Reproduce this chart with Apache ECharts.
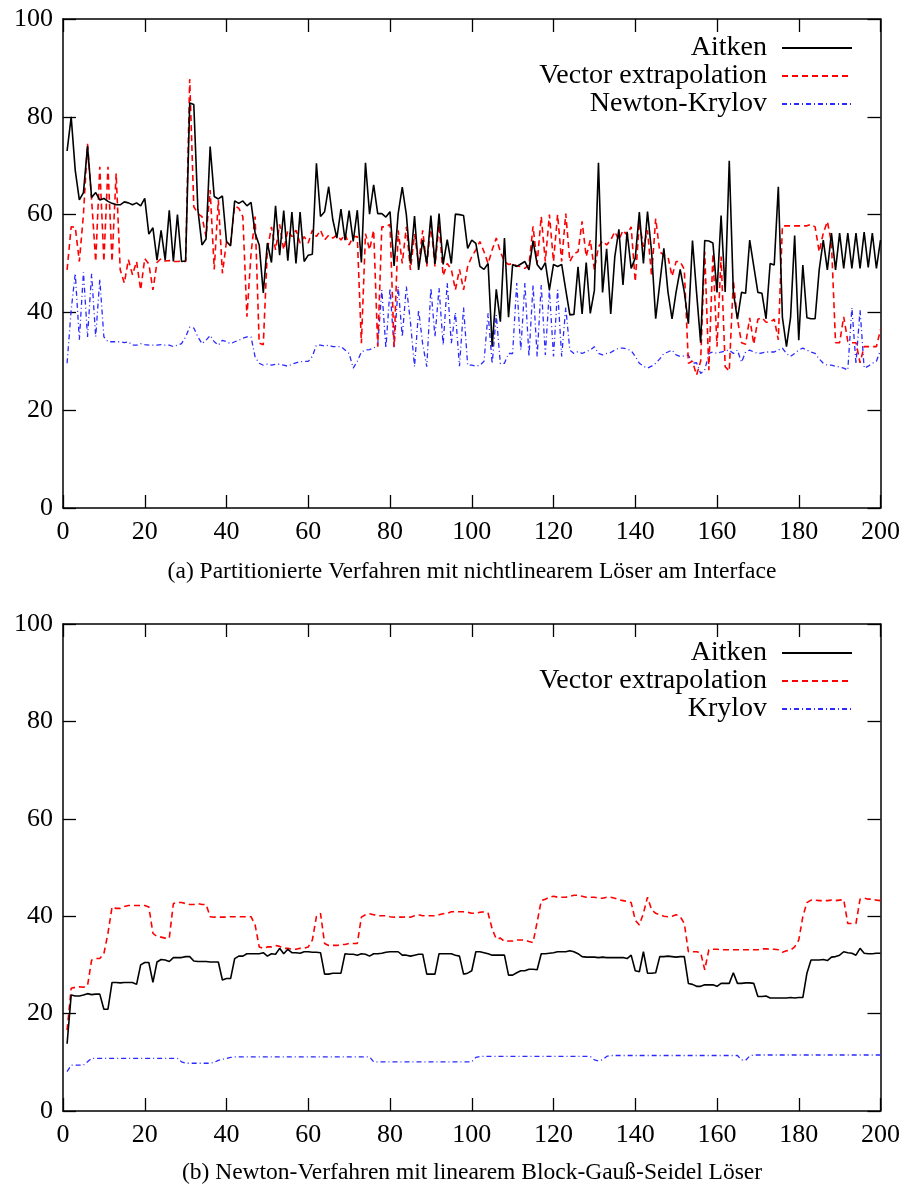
<!DOCTYPE html>
<html>
<head>
<meta charset="utf-8">
<script src="https://cdn.jsdelivr.net/npm/echarts@6/dist/echarts.min.js"></script>
<style>html,body{margin:0;padding:0;background:#fff}#c{width:903px;height:1188px}</style>
</head>
<body>
<div id="c"></div>
<script>
// ---------- data ----------
const iterations = [];
for (let i = 1; i <= 200; i++) iterations.push(i);

const seriesNamesA = ['Aitken', 'Vector extrapolation', 'Newton-Krylov'];
const seriesNamesB = ['Aitken', 'Vector extrapolation', 'Krylov'];
const captionA = '(a) Partitionierte Verfahren mit nichtlinearem Löser am Interface';
const captionB = '(b) Newton-Verfahren mit linearem Block-Gauß-Seidel Löser';

const aitkenA = [73,80,69,63,64.5,74,63.5,64.5,63,63.3, 62.7,62.3,62,62,62.6,62.4,62,62.4,61.8,63.3,
 56,57.3,50.7,56.8,50.7,60.9,50.4,60,50.4,50.5, 82.8,82.5,61,53.8,55,73.9,63.7,63.2,63.8,54.5,
 53.6,62.8,62.3,62.8,61.8,62.5,56.2,53.8,44,54.2, 50.2,61.8,51.7,60.8,50.6,60.5,50,60.5,50.4,51.7,
 51.9,70.5,59.6,60.6,65.7,59,55.2,61.1,54.8,60.8, 54.5,60.9,50.2,70.6,60.1,66.1,60.2,60.2,59.5,60.6,
 49.5,60.2,65.6,60,50,59.7,48.7,54.8,50,59.8, 49.9,60.2,49.8,54.9,50,60.1,60,59.8,53.1,54.8,
 54.1,49.4,48.8,50,33,44.7,38.1,55.2,39,49.8, 49.4,49.9,50.4,48.7,54.7,49.8,48.7,50.2,44.6,49.8,
 49.4,49.8,44.6,39.5,39.6,49.3,39.7,50.2,39.8,44.5, 70.6,44.1,53,39.7,51.4,57,45.6,56.5,49,51.1,
 60.5,50,60.6,52.4,38.7,45.9,53.1,44.2,38.7,44.2, 48.8,44.2,37.7,54.7,44.1,33.8,54.7,54.6,54.2,44.1,
 59.8,44.2,71,44.1,38.6,44.1,43.9,54.8,49.4,44.1, 43.9,38.7,50,49.7,65.7,39,33,39,55.7,34.3,
 49.7,38.9,38.7,38.7,48.7,54.8,48.7,56.2,48.7,56.2, 49,56.2,49,56.2,49,56.4,49.2,56.2,49,54.8];

const vectorA = [48.7,57.5,57.4,50.4,60,74.5,63,50.4,69.8,50.4, 69.8,50.4,68.4,48.7,46,50.8,47.7,50.4,44.6,51,
 49.9,44.6,50.2,51,50.5,50.6,50.4,50.4,50.5,50.4, 87.7,61.6,60.2,59.6,55.5,65,48.8,63,48,54.5,
 54.2,61.8,61.3,59.6,39.1,52,59.6,33.7,33.4,52.8, 57.5,52.8,58,52.8,56.8,55.5,56.8,54.2,55.5,54.2,
 56.8,55.5,56.8,54.8,55.8,55.2,55.8,54.8,56,53.8, 55.5,55.5,33.7,56.1,52.8,56.8,33,57.5,57.5,58,
 33,56.8,50,57.5,48.7,56,50,56.8,49.4,58, 49.4,58,47.5,50,48.8,44.6,48.8,44.6,49.4,51.4,
 52.8,54.5,52.4,50,52.8,55.2,52.4,50.4,49.8,50, 49.5,49.4,49,49.7,57.6,50,59.6,50.4,60,50.4,
 60,50.4,60.2,50.4,52,52.4,58.6,51.4,54.8,48.7, 53.4,54.6,53.8,54.8,56.5,54.8,56.8,55.8,57.5,46.3,
 58.6,53.4,56.8,47.4,59.2,52.4,51.7,51.4,47.4,50.4, 50.4,48.8,29.6,30,27.2,30,52.4,28.2,52,33,
 51.4,28.9,28,46.5,38.6,33.8,33.5,38.9,33.5,38.6, 38.9,38,38,38.6,34.4,57.7,57.7,57.7,57.7,57.7,
 57.7,57.7,58,57.5,52.4,56.2,58.6,54.2,33.8,33.8, 39.1,34.1,33.8,33.8,29.7,33,33,33,33,36.5];

const newtonKrylovA = [29.6,40.5,48,34.4,48.2,35,47.9,35,46.8,35, 34,34,34,34,33.8,34,33.3,33.3,33.6,33.4,
 33.3,33.3,33.3,33.4,33.3,33.3,33,33.3,33.6,35, 37,36.8,35,33.6,34.3,35.3,34,33.3,34.3,34,
 33.6,34,34.3,34.7,35,35,30.9,29.6,29.2,29.4, 29.2,29.4,29.4,29.2,29,29.4,29.7,29.9,30,30,
 31,33.3,33.3,33.1,33.3,33,33,33,32.3,31.6, 28.6,30,31.9,32.3,32.4,32.7,33.3,44.6,32.7,44.9,
 32.7,45.3,35,45.3,38,28.9,40.5,33.5,28.9,45, 35,45,33.3,46,33.7,40,29,41,29.2,29.2,
 29,29.2,30,39.8,29.5,39.5,29.5,29.6,31.6,31.6, 46,32.3,46,31,45.6,31,45.6,31.3,44.6,31,
 44.6,31,41,32.3,31.6,32,31.6,32,32.3,33, 31.6,31.3,31.6,31.8,32.3,32.7,32.7,32.5,32.2,31,
 29.6,29,28.6,29,29.6,30.5,31.6,31.9,32.3,31.3, 31,31.1,31.3,29.6,29.7,27.5,28.2,31.6,31.9,31.6,
 31.9,32.1,32.3,31.6,32.3,29.8,31.9,32.3,31.9,31.6, 31.7,31.9,31.9,31.9,32.3,32.7,31.6,31,31.6,32.3,
 32.7,32.3,31.9,31.6,30.5,29.6,29.2,29.2,29,28.8, 28.6,28.2,41,29.5,40.5,28.6,29,29.6,30,32.3];

const aitkenB = [13.8,23.8,23.6,23.6,23.8,24.1,23.9,24,24,20.9, 20.9,26.4,26.4,26.3,26.4,26.4,26.4,26,30,30.5,
 30.5,26.4,30.6,31.1,31,30.7,31.5,31.5,31.5,31.7, 31.7,30.8,30.7,30.7,30.7,30.6,30.6,30.6,26.9,27.2,
 27.2,31.3,31.8,31.8,32.3,32.3,32.3,32.3,32.5,31.8, 32.3,32.2,33.4,32.3,33.2,32.5,32.5,32.4,32.7,32.7,
 32.6,32.6,32.5,28.1,28.1,28.3,28.3,28.3,32.3,32.2, 32.2,32,32.3,32.2,31.8,32.3,32.3,32.4,32.6,32.7,
 32.7,32.7,32,32,31.8,32,32.2,32.2,28.1,28.1, 28.1,32.3,32.3,32.3,32.3,32,31.8,28.1,28.3,28.8,
 32.7,32.7,32.5,32.3,32,32,32,32,27.9,27.9, 28.4,28.8,28.8,29.1,29.1,29,32.3,32.3,32.4,32.5,
 32.7,32.7,32.7,32.9,32.7,32.3,31.7,31.6,31.6,31.6, 31.5,31.6,31.5,31.5,31.5,31.5,31.5,31.3,32,28.8,
 28.6,32.7,28.3,28.3,28.4,31.7,31.7,31.8,31.7,31.6, 31.7,31.7,26.2,26,25.6,25.6,25.9,25.9,25.9,25.6,
 26.2,26.2,26.2,28.4,26.2,26.2,26.3,26.3,26.2,23.5, 23.5,23.6,23.2,23.2,23.2,23.2,23.2,23.3,23.2,23.3,
 23.3,28.3,31,31,31,31.1,30.9,31.6,31.7,32, 32.7,32.5,32.4,32,33.4,32.4,32.3,32.3,32.4,32.4];

const vectorB = [16.6,25.2,25.4,25.5,25.4,25.7,31,31.3,31.3,32.3, 36.5,41.9,41.6,41.6,42,42.2,42.2,42.2,42.2,42.2,
 41.9,36.5,35.8,35.7,35.5,35.5,42.6,42.8,42.8,42.6, 42.4,42.4,42.6,42.4,42.4,39.9,39.8,39.8,39.8,39.8,
 39.9,39.9,39.9,39.9,39.9,39.9,38.2,33.7,33.4,33.7, 33.7,34,33.8,33.4,33.4,33.2,33.2,33.4,33.4,33.7,
 35.1,39.9,40.6,34.4,34,34,34,34.2,34.2,34.4, 34.4,34.4,39.8,40.3,40.5,40.3,40.1,40.1,40.1,39.9,
 39.8,39.8,39.8,39.9,39.8,40.1,40.3,40.1,40.1,40.1, 40.1,40.3,40.5,40.6,40.9,40.9,40.9,40.9,40.8,40.6,
 40.6,40.8,40.9,40.6,37.4,35.3,35.5,34.8,34.9,34.9, 35.1,35.1,35.1,34.8,34.6,38.8,43.2,43.5,43.9,44.1,
 43.9,43.9,43.9,44.1,44.3,44.3,44.1,43.9,43.9,43.9, 43.7,43.7,43.9,43.9,43.7,43.4,43.2,43,42.8,39.2,
 38.2,40.6,43.9,41.3,40.6,40.3,40,39.9,40,40.3, 39.9,38.5,32.7,32.7,32.7,32.5,29,33.1,33.2,33.2,
 33.1,33.1,33.1,33.1,33.1,33.1,33.1,33.1,33.1,33.1, 33.3,33.3,33.2,33.2,33.1,32.6,32.9,33,33.7,35.1,
 39.9,42.8,43.3,43.3,43.2,43.2,43.2,43.3,43.2,43.3, 43.4,38.5,38.5,38.5,43.5,43.7,43.5,43.5,43.3,43.2];

const krylovB = [8.1,9.4,9.4,9.4,9.4,10.1,10.8,10.8,10.8,10.8, 10.8,10.8,10.8,10.8,10.8,10.8,10.8,10.8,10.8,10.8,
 10.8,10.8,10.8,10.8,10.8,10.8,10.8,10.8,10.1,9.8, 9.8,9.8,9.8,9.8,9.8,9.8,10,10.4,10.6,10.8,
 11,11.1,11.1,11.1,11.1,11.1,11.1,11.1,11.1,11.1, 11.1,11.1,11.1,11.1,11.1,11.1,11.1,11.1,11.1,11.1,
 11.1,11.1,11.1,11.1,11.1,11.1,11.1,11.1,11.1,11.1, 11.1,11.1,11.1,11.1,11.1,10.1,10.1,10.1,10.1,10.1,
 10.1,10.1,10.1,10.1,10.1,10.1,10.1,10.1,10.1,10.1, 10.1,10.1,10.1,10.1,10.1,10.1,10.1,10.1,10.1,10.1,
 11,11.2,11.2,11.2,11.2,11.2,11.2,11.2,11.2,11.2, 11.2,11.2,11.2,11.2,11.2,11.2,11.2,11.2,11.2,11.2,
 11.2,11.2,11.2,11.2,11.2,11.2,11.2,11.2,11.2,10.5, 10.3,10.5,11.2,11.4,11.4,11.4,11.4,11.4,11.4,11.4,
 11.4,11.4,11.4,11.4,11.4,11.4,11.4,11.4,11.4,11.4, 11.4,11.4,11.4,11.4,11.4,11.4,11.4,11.4,11.4,11.4,
 11.4,11.4,11.4,11.4,11.4,10.5,10.4,11.3,11.5,11.5, 11.5,11.5,11.5,11.5,11.5,11.5,11.5,11.5,11.5,11.5,
 11.5,11.5,11.5,11.5,11.5,11.5,11.5,11.5,11.5,11.5, 11.5,11.5,11.5,11.5,11.5,11.5,11.5,11.5,11.5,11.5];

// ---------- chart ----------
const FONT = 'Liberation Serif';
const pairs = arr => iterations.map((x, i) => [x, arr[i]]);

const styles = [
  {color: '#000000', width: 1.6, type: 'solid'},
  {color: '#ff0000', width: 1.6, type: [6, 4]},
  {color: '#2a2aff', width: 1.3, type: [5, 3, 1, 3]}
];

function xAx(grid, pos) {
  return {
    type: 'value', gridIndex: grid, position: pos, min: 0, max: 200, interval: 20,
    axisLine: {show: true, onZero: false, lineStyle: {color: '#000', width: 1.5}},
    axisTick: {show: true, inside: true, length: 13, lineStyle: {color: '#000', width: 1.3}},
    axisLabel: {show: pos === 'bottom', margin: 11, color: '#000', fontFamily: FONT, fontSize: 26},
    splitLine: {show: false}
  };
}
function yAx(grid, pos) {
  return {
    type: 'value', gridIndex: grid, position: pos, min: 0, max: 100, interval: 20,
    axisLine: {show: true, onZero: false, lineStyle: {color: '#000', width: 1.5}},
    axisTick: {show: true, inside: true, length: 13, lineStyle: {color: '#000', width: 1.3}},
    axisLabel: {show: pos === 'left', margin: 10, color: '#000', fontFamily: FONT, fontSize: 26},
    splitLine: {show: false}
  };
}

const series = [];
[[aitkenA, vectorA, newtonKrylovA, seriesNamesA, 0], [aitkenB, vectorB, krylovB, seriesNamesB, 1]].forEach(set => {
  const g = set[4];
  [set[0], set[1], set[2]].forEach((arr, k) => {
    series.push({
      type: 'line', name: set[3][k], data: pairs(arr),
      xAxisIndex: g * 2, yAxisIndex: g * 2,
      symbol: 'none', showSymbol: false, smooth: false,
      lineStyle: styles[k], itemStyle: {color: styles[k].color},
      z: 3 - k
    });
  });
});

function legend(names, top) {
  return {
    data: names, orient: 'vertical', right: 50, top: top, align: 'right', padding: 0,
    itemWidth: 70, itemHeight: 10, itemGap: 0, selectedMode: false,
    itemStyle: {opacity: 0, borderWidth: 0},
    textStyle: {fontFamily: FONT, fontSize: 28, lineHeight: 26, color: '#000', padding: [0, 10, 0, 0]}
  };
}

const chart = echarts.init(document.getElementById('c'), null, {renderer: 'canvas'});
chart.setOption({
  animation: false,
  backgroundColor: '#fff',
  grid: [
    {left: 63, top: 19, width: 818, height: 489, show: false},
    {left: 63, top: 624, width: 818, height: 487, show: false}
  ],
  xAxis: [xAx(0, 'bottom'), xAx(0, 'top'), xAx(1, 'bottom'), xAx(1, 'top')],
  yAxis: [yAx(0, 'left'), yAx(0, 'right'), yAx(1, 'left'), yAx(1, 'right')],
  legend: [legend(seriesNamesA, 34), legend(seriesNamesB, 639)],
  series: series,
  graphic: [
    {type: 'text', x: 472, y: 572, style: {text: captionA, textAlign: 'center', textVerticalAlign: 'middle', fontFamily: FONT, fontSize: 23.5, fill: '#000'}},
    {type: 'text', x: 472, y: 1173, style: {text: captionB, textAlign: 'center', textVerticalAlign: 'middle', fontFamily: FONT, fontSize: 23.5, fill: '#000'}}
  ]
});
</script>
</body>
</html>
